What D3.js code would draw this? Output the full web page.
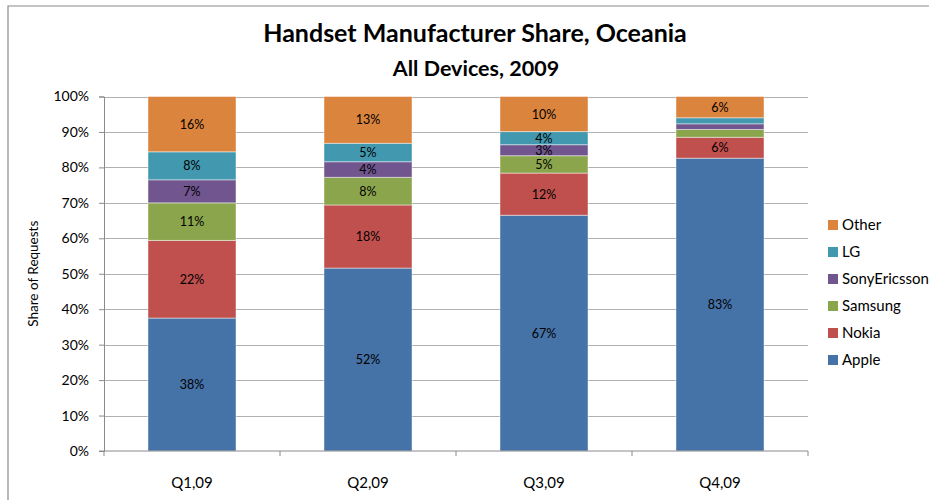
<!DOCTYPE html>
<html>
<head>
<meta charset="utf-8">
<script src="https://cdn.jsdelivr.net/npm/d3@7"></script>
<style>
  body { margin: 0; background: #fff; }
  text { font-family: Lato, "Open Sans", sans-serif; fill: #000; }
</style>
</head>
<body>
<div id="canvas"></div>
<script>
"use strict"

/* Data (share of requests, %) */
let quarters = ["Q1,09", "Q2,09", "Q3,09", "Q4,09"];
let makers = ["Apple", "Nokia", "Samsung", "SonyEricsson", "LG", "Other"];
let apple = [37.5, 51.6, 66.5, 82.6];
let nokia = [21.9, 17.8, 11.9, 5.9];
let samsung = [10.6, 7.8, 4.9, 2.2];
let sonyEricsson = [6.5, 4.4, 3.1, 1.6];
let lg = [7.9, 5.2, 3.7, 1.7];
let other = [15.6, 13.2, 9.9, 6.0];
let yTicks = [0, 10, 20, 30, 40, 50, 60, 70, 80, 90, 100];

let colors = ["#4572a7", "#c0504d", "#8ba54d", "#70558f", "#4198af", "#db843d"];

/* Configuration variables: drawing */
let svgWidth = 929;
let svgHeight = 500;
let plotLeft = 104, plotRight = 808, plotTop = 96.5, plotBottom = 451;

let svg = d3.select("#canvas")
    .append("svg")
    .attr("width", svgWidth)
    .attr("height", svgHeight);

/* chart frame (only top and left visible) */
svg.append("path")
    .attr("d", "M8,940 L8,6 L1000,6")
    .attr("fill", "none")
    .attr("stroke", "#8a8a8a")
    .attr("stroke-width", 1.2);

/* build a table the stack layout can use */
let seriesValues = [apple, nokia, samsung, sonyEricsson, lg, other];
let table = quarters.map(function (q, i) {
    let row = { quarter: q };
    makers.forEach(function (m, j) { row[m] = seriesValues[j][i]; });
    return row;
});
let stacked = d3.stack().keys(makers)(table);

let x = d3.scaleBand()
    .domain(quarters)
    .range([plotLeft, plotRight])
    .paddingInner(0.5)
    .paddingOuter(0.25);

let y = d3.scaleLinear()
    .domain([0, 100])
    .range([plotBottom, plotTop]);

/* gridlines */
svg.append("g")
    .selectAll("line")
    .data(yTicks.slice(1))
    .join("line")
    .attr("x1", plotLeft)
    .attr("x2", plotRight)
    .attr("y1", d => Math.round(y(d)) + 0.5)
    .attr("y2", d => Math.round(y(d)) + 0.5)
    .attr("stroke", "#b0b0b0")
    .attr("stroke-width", 1);

/* bars */
let layers = svg.append("g")
    .selectAll("g")
    .data(stacked)
    .join("g")
    .attr("fill", (d, i) => colors[i]);

layers.selectAll("rect")
    .data(d => d)
    .join("rect")
    .attr("x", d => x(d.data.quarter))
    .attr("width", x.bandwidth())
    .attr("y", d => y(d[1]))
    .attr("height", d => y(d[0]) - y(d[1]))
    .attr("stroke", "rgba(255,255,255,0.45)")
    .attr("stroke-width", 1);

/* data labels: skip the tiny Q4 slices like the original */
layers.selectAll("text")
    .data(d => d.filter(s => (s[1] - s[0]) >= 2.5))
    .join("text")
    .attr("x", d => x(d.data.quarter) + x.bandwidth() / 2)
    .attr("y", d => (y(d[0]) + y(d[1])) / 2)
    .attr("dy", "0.36em")
    .attr("text-anchor", "middle")
    .attr("font-size", 12.5)
    .attr("fill", "#000")
    .text(d => Math.round(d[1] - d[0]) + "%");

/* y axis */
let yAxis = svg.append("g")
    .attr("transform", "translate(" + plotLeft + ",0)")
    .call(d3.axisLeft(y).tickValues(yTicks).tickSize(5).tickPadding(10).tickFormat(d => d + "%"));
yAxis.select(".domain").attr("stroke", "#8a8a8a");
yAxis.selectAll(".tick line").attr("stroke", "#8a8a8a");
yAxis.selectAll("text").attr("font-size", 14).attr("font-family", "Lato, sans-serif");

/* x axis: ticks sit on the category boundaries */
let xAxis = svg.append("g")
    .attr("transform", "translate(0," + plotBottom + ")");
xAxis.append("line")
    .attr("x1", plotLeft - 5)
    .attr("x2", plotRight)
    .attr("stroke", "#8a8a8a");
let step = x.step();
let boundaries = quarters.map((q, i) => plotLeft + i * step).concat([plotRight]);
xAxis.selectAll(".xtick")
    .data(boundaries)
    .join("line")
    .attr("x1", d => d)
    .attr("x2", d => d)
    .attr("y1", 0)
    .attr("y2", 5)
    .attr("stroke", "#8a8a8a");
xAxis.selectAll("text")
    .data(quarters)
    .join("text")
    .attr("x", d => x(d) + x.bandwidth() / 2)
    .attr("y", 37)
    .attr("text-anchor", "middle")
    .attr("font-size", 15)
    .text(d => d);

/* axis title */
svg.append("text")
    .attr("transform", "translate(38," + ((plotTop + plotBottom) / 2) + ") rotate(-90)")
    .attr("text-anchor", "middle")
    .attr("font-size", 13.5)
    .text("Share of Requests");

/* titles */
svg.append("text")
    .attr("x", 475)
    .attr("y", 42)
    .attr("text-anchor", "middle")
    .attr("font-size", 25)
    .attr("font-weight", "bold")
    .text("Handset Manufacturer Share, Oceania");

svg.append("text")
    .attr("x", 476)
    .attr("y", 76)
    .attr("text-anchor", "middle")
    .attr("font-size", 21.5)
    .attr("font-weight", "bold")
    .text("All Devices, 2009");

/* legend, top entry is the top of the stack */
let legendOrder = makers.slice().reverse();
let legend = svg.append("g")
    .selectAll("g")
    .data(legendOrder)
    .join("g")
    .attr("transform", (d, i) => "translate(828," + (225 + i * 27) + ")");
legend.append("rect")
    .attr("x", 0)
    .attr("y", -5)
    .attr("width", 10)
    .attr("height", 10)
    .attr("fill", d => colors[makers.indexOf(d)]);
legend.append("text")
    .attr("x", 14)
    .attr("dy", "0.36em")
    .attr("font-size", 15)
    .text(d => d);
</script>
</body>
</html>
